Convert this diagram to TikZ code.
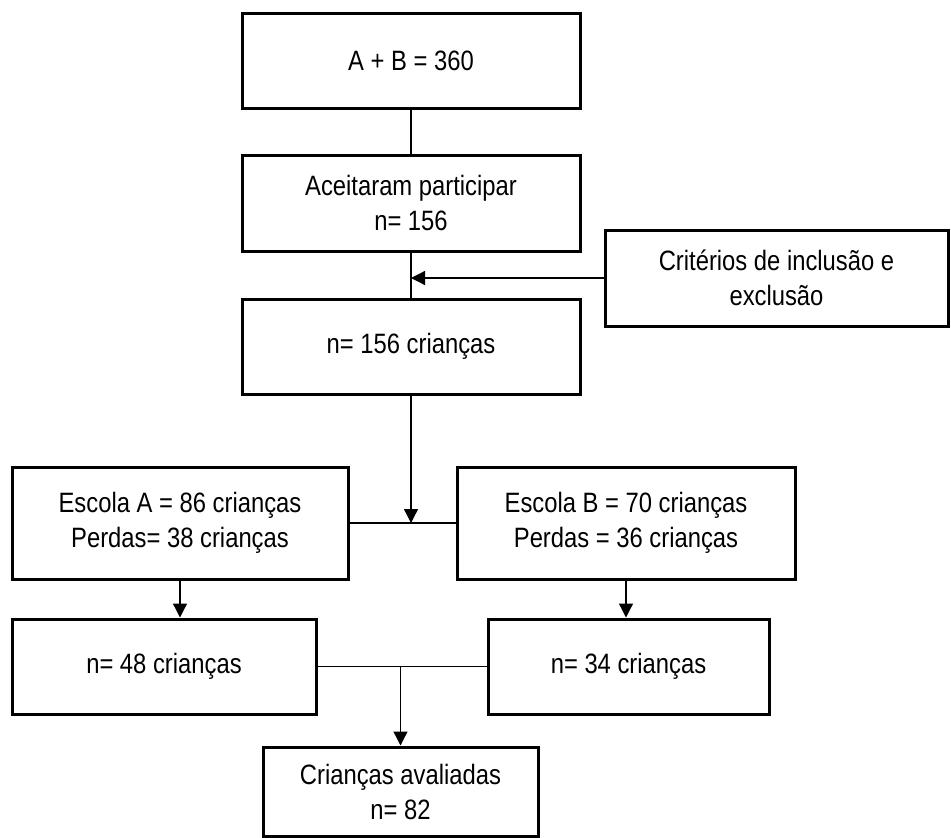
\documentclass[tikz,border=0pt]{standalone}
\usepackage{fontspec}
\setmainfont[FakeStretch=0.85]{Liberation Sans}
\usetikzlibrary{arrows.meta}
\begin{document}
\begin{tikzpicture}[x=1pt,y=-1pt,
  box/.style={draw=black, line width=3pt, rectangle, inner sep=0pt, align=center,
    font=\fontsize{28}{35}\selectfont},
  conn/.style={draw=black, line width=1.3pt},
  arr/.style={conn, -{Triangle[length=14pt,width=14pt]}}]
\useasboundingbox (0,0) rectangle (951,838);
\node[box, minimum width=338pt, minimum height=95pt] (b1) at (411,60.5) {A + B = 360};
\node[box, minimum width=338pt, minimum height=96pt] (b2) at (411,203) {Aceitaram participar\\n= 156};
\node[box, minimum width=338pt, minimum height=95pt] (b3) at (411,346.5) {n= 156 crianças};
\node[box, minimum width=343pt, minimum height=96pt] (crit) at (776.5,278) {Critérios de inclusão e\\exclusão};
\node[box, minimum width=336pt, minimum height=112pt] (eA) at (180,523) {Escola A = 86 crianças\\Perdas= 38 crianças};
\node[box, minimum width=338pt, minimum height=112pt] (eB) at (626,523) {Escola B = 70 crianças\\Perdas = 36 crianças};
\node[box, minimum width=304pt, minimum height=95pt] (n48) at (164,666.5) {n= 48 crianças};
\node[box, minimum width=281pt, minimum height=95pt] (n34) at (628.5,666.5) {n= 34 crianças};
\node[box, minimum width=275pt, minimum height=89pt] (fin) at (400.5,791.5) {Crianças avaliadas\\n= 82};
\coordinate (jc) at (b3.north |- crit.west);
\coordinate (js) at (b3.south |- eA.east);
\coordinate (jf) at (fin.north |- n48.east);
\draw[conn] (b1.south) -- (b2.north);
\draw[conn] (b2.south) -- (b3.north);
\draw[arr] (crit.west) -- (jc);
\draw[arr] (b3.south) -- (js);
\draw[conn] (eA.east) -- (eB.west);
\draw[arr] (eA.south) -- (eA.south |- n48.north);
\draw[arr] (eB.south) -- (eB.south |- n34.north);
\draw[conn] (n48.east) -- (n34.west);
\draw[arr] (jf) -- (fin.north);
\end{tikzpicture}
\end{document}
